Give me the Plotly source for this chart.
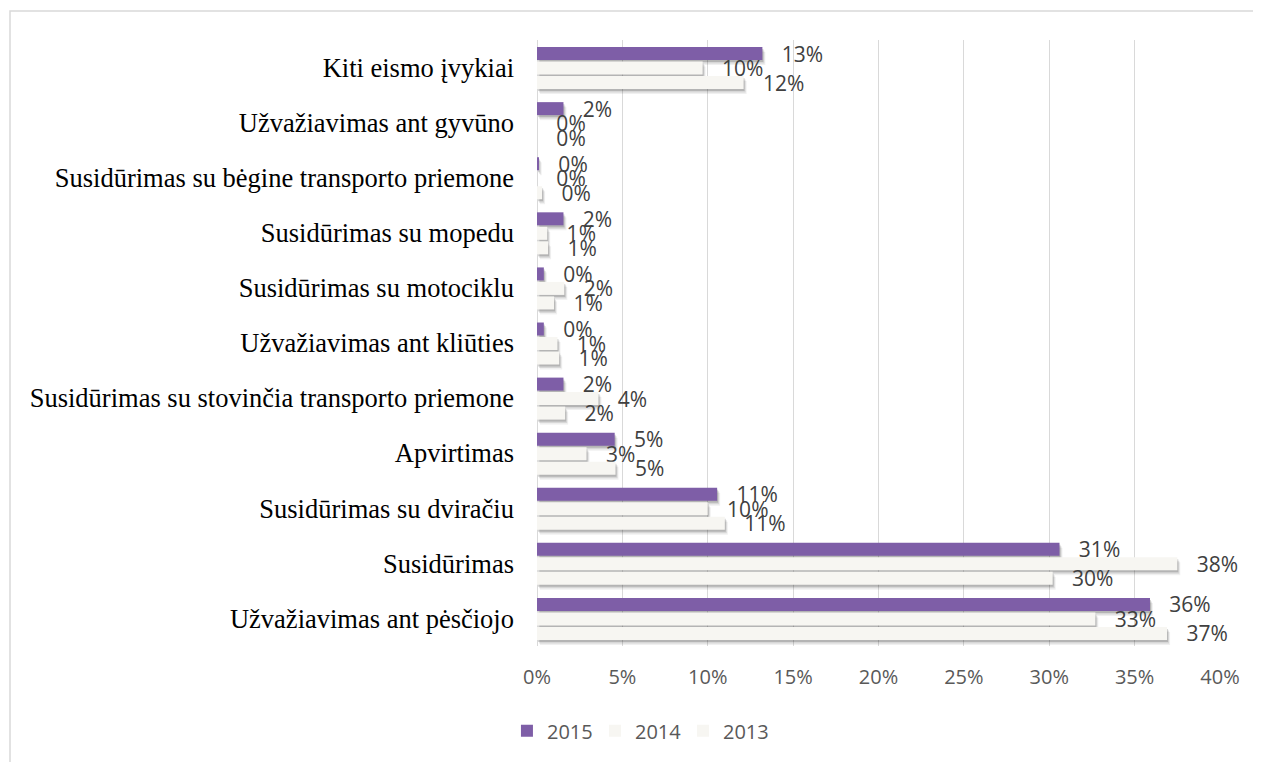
import plotly.graph_objects as go

categories = [
    "Užvažiavimas ant pėsčiojo",
    "Susidūrimas",
    "Susidūrimas su dviračiu",
    "Apvirtimas",
    "Susidūrimas su stovinčia transporto priemone",
    "Užvažiavimas ant kliūties",
    "Susidūrimas su motociklu",
    "Susidūrimas su mopedu",
    "Susidūrimas su bėgine transporto priemone",
    "Užvažiavimas ant gyvūno",
    "Kiti eismo įvykiai",
]
v2015 = [35.9, 30.6, 10.55, 4.55, 1.55, 0.4, 0.4, 1.55, 0.1, 1.55, 13.2]
v2014 = [32.7, 37.5, 10.0, 2.9, 3.6, 1.2, 1.6, 0.6, 0.0, 0.0, 9.7]
v2013 = [36.9, 30.2, 11.0, 4.6, 1.65, 1.3, 1.0, 0.65, 0.3, 0.0, 12.1]
years = ["2015", "2014", "2013"]
xticks = [0, 5, 10, 15, 20, 25, 30, 35, 40]

# page has an 8px body margin, so the figure is sized/offset to compensate
W, H = 1253, 754
ML, MR, MT, MB = 529, 41, 32, 116
pw = W - ML - MR
ph = H - MT - MB
ypx = ph / len(categories)        # px per category
xpx = pw / 40.0                   # px per percent

bar_w = 13 / ypx
pitch = 14.5 / ypx
top = 0.372
offsets = [top - bar_w, top - bar_w - pitch, top - bar_w - 2 * pitch]
colors = ["#7E5EA7", "#F7F6F2", "#F7F6F2"]
series = [v2015, v2014, v2013]

sans = "Open Sans"
fig = go.Figure()

# soft shadows
for vals, off in zip(series, offsets):
    for dy, dx, a in [(5.0, 3.0, 0.06), (3.5, 2.0, 0.10), (2.0, 1.0, 0.16)]:
        fig.add_trace(go.Bar(
            y=categories, x=vals, orientation="h",
            base=dx / xpx, offset=off - dy / ypx, width=bar_w,
            marker=dict(color=f"rgba(0,0,0,{a})", line=dict(width=0)),
            showlegend=False, hoverinfo="skip",
        ))

for name, vals, off, col in zip(years, series, offsets, colors):
    fig.add_trace(go.Bar(
        y=categories, x=vals, orientation="h", name=name,
        offset=off, width=bar_w,
        marker=dict(color=col, line=dict(width=0)),
        text=vals, texttemplate="\u00a0\u00a0\u00a0%{x:.0f}%",
        textposition="outside", constraintext="none", cliponaxis=False,
        textfont=dict(family=sans, size=21, color="#404040"),
    ))

fig.update_layout(
    width=W, height=H,
    margin=dict(l=ML, r=MR, t=MT, b=MB),
    barmode="overlay",
    paper_bgcolor="white", plot_bgcolor="white",
    xaxis=dict(
        range=[0, 40], tickvals=xticks, ticktext=[f"{t}%" for t in xticks],
        showgrid=True, gridcolor="#D9D9D9", gridwidth=1,
        zeroline=True, zerolinecolor="#D9D9D9", zerolinewidth=1,
        showline=False, ticks="", ticklabelstandoff=17,
        tickfont=dict(family=sans, size=20, color="#595959"),
    ),
    yaxis=dict(
        type="category", categoryorder="array", categoryarray=categories,
        range=[-0.5, len(categories) - 0.5],
        showgrid=False, zeroline=False, showline=False, ticks="",
        ticklabelstandoff=22,
        tickfont=dict(family="Liberation Serif", size=26.5, color="#000000"),
    ),
    legend=dict(
        orientation="h", x=-0.044, xanchor="left", y=-0.14, yanchor="middle",
        font=dict(family=sans, size=20, color="#595959"),
        itemclick=False, traceorder="normal",
        entrywidth=43, entrywidthmode="pixels",
    ),
    shapes=[dict(
        type="rect", xref="paper", yref="paper",
        x0=(2 - ML) / pw, x1=1.3, y0=-0.4, y1=(ph + MT - 3) / ph,
        line=dict(color="#D9D9D9", width=1.5), fillcolor="rgba(0,0,0,0)",
        layer="below",
    )],
)

fig.write_html("out.html")
